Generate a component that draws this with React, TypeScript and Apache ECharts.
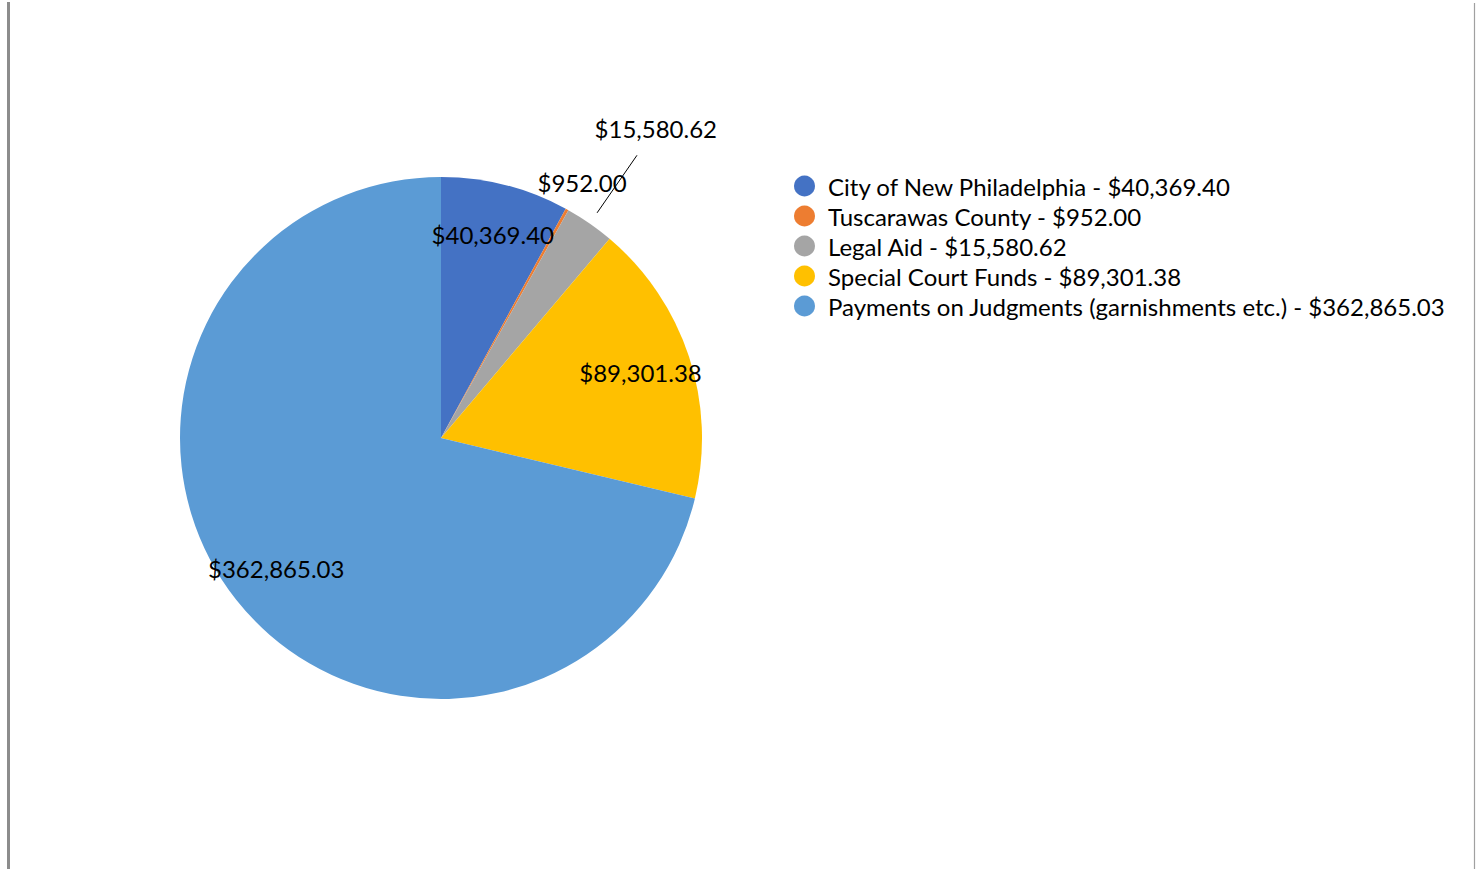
import { useEffect, useRef } from "react";
import * as echarts from "echarts";

const categories = [
  "City of New Philadelphia",
  "Tuscarawas County",
  "Legal Aid",
  "Special Court Funds",
  "Payments on Judgments (garnishments etc.)",
];
const values = [40369.4, 952.0, 15580.62, 89301.38, 362865.03];
const colors = ["#4472C4", "#ED7D31", "#A5A5A5", "#FFC000", "#5B9BD5"];

const FONT = "Lato";

const fmt = (v: number) =>
  "$" + v.toLocaleString("en-US", { minimumFractionDigits: 2, maximumFractionDigits: 2 });

export default function App() {
  const ref = useRef<HTMLDivElement>(null);

  useEffect(() => {
    if (!ref.current) return;
    const chart = echarts.init(ref.current, null, { renderer: "svg" });

    const pieData = categories.map((name, i) => ({
      name,
      value: values[i],
      itemStyle: { color: colors[i] },
    }));

    const labelData = categories.map((name, i) => {
      const base: any = { name, value: values[i] };
      if (i === 1) {
        base.label = { position: "outside", distanceToLabelLine: 0 };
        base.labelLine = { show: true, length: 31, length2: 0, lineStyle: { opacity: 0 } };
      } else if (i === 2) {
        base.label = { position: "outside", distanceToLabelLine: 0 };
        base.labelLine = {
          show: true,
          length: 116,
          length2: 0,
          lineStyle: { color: "#000", width: 1, opacity: 1 },
        };
      }
      return base;
    });

    chart.setOption({
      animation: false,
      backgroundColor: "#ffffff",
      legend: {
        orient: "vertical",
        left: 794,
        top: 171,
        padding: 0,
        icon: "circle",
        itemWidth: 21,
        itemHeight: 21,
        itemGap: 0,
        selectedMode: false,
        data: categories.map((name, i) => ({ name, itemStyle: { color: colors[i] } })),
        formatter: (name: string) => `${name} - ${fmt(values[categories.indexOf(name)])}`,
        textStyle: {
          fontFamily: FONT,
          fontSize: 24,
          lineHeight: 30,
          color: "#000",
          padding: [0, 0, 0, 8],
        },
      },
      graphic: [
        {
          type: "line",
          shape: { x1: 8.5, y1: 2, x2: 8.5, y2: 869 },
          style: { stroke: "#8c8c8c", lineWidth: 3 },
        },
        {
          type: "line",
          shape: { x1: 1474.5, y1: 3, x2: 1474.5, y2: 869 },
          style: { stroke: "#a0a0a0", lineWidth: 1.2 },
        },
      ],
      series: [
        {
          type: "pie",
          center: [441, 438],
          radius: [0, 261],
          startAngle: 90,
          clockwise: true,
          silent: true,
          label: { show: false },
          labelLine: { show: false },
          itemStyle: { borderWidth: 0 },
          data: pieData,
        },
        {
          type: "pie",
          center: [441, 438],
          radius: [153, 261],
          startAngle: 90,
          clockwise: true,
          silent: true,
          avoidLabelOverlap: false,
          itemStyle: { color: "rgba(0,0,0,0)", borderWidth: 0 },
          emphasis: { disabled: true },
          label: {
            show: true,
            position: "inside",
            formatter: (p: any) => fmt(p.value),
            fontFamily: FONT,
            fontSize: 24,
            color: "#000",
          },
          labelLine: { show: false },
          labelLayout: (params: any) => {
            const pts = params.labelLinePoints;
            if ((params.dataIndex === 1 || params.dataIndex === 2) && pts && pts.length >= 2) {
              const p0 = pts[0];
              const p1 = pts[1];
              const len = Math.hypot(p1[0] - p0[0], p1[1] - p0[1]) || 1;
              const ux = (p1[0] - p0[0]) / len;
              const uy = (p1[1] - p0[1]) / len;
              const res: any = {
                x: p1[0],
                y: p1[1],
                align: "center",
                verticalAlign: "middle",
              };
              if (params.dataIndex === 2) {
                res.labelLinePoints = [
                  [p0[0] + ux * 13, p0[1] + uy * 13],
                  [p0[0] + ux * 83, p0[1] + uy * 83],
                ];
              } else {
                res.labelLinePoints = [p0, p1];
              }
              return res;
            }
            return {};
          },
          data: labelData,
        },
      ],
    });

    return () => chart.dispose();
  }, []);

  return (
    <div
      ref={ref}
      style={{ position: "fixed", left: 0, top: 0, width: "1481px", height: "869px", background: "#fff" }}
    />
  );
}
